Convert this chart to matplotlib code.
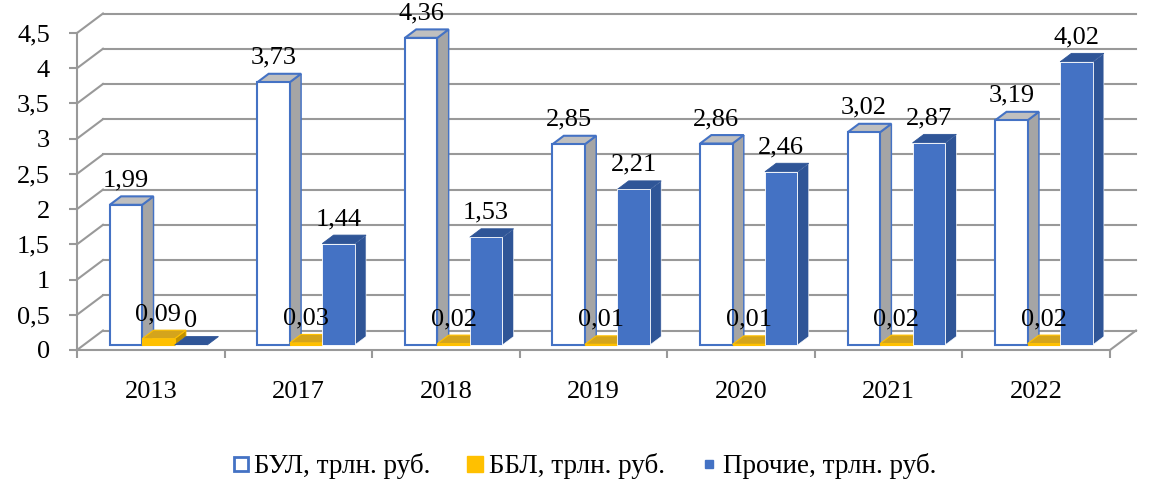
import matplotlib
matplotlib.use("Agg")
import matplotlib.pyplot as plt
from matplotlib.patches import Polygon
from matplotlib.lines import Line2D

# ---- data ----
categories = ["2013", "2017", "2018", "2019", "2020", "2021", "2022"]
bul = [1.99, 3.73, 4.36, 2.85, 2.86, 3.02, 3.19]
bbl = [0.09, 0.03, 0.02, 0.01, 0.01, 0.02, 0.02]
other = [0.0, 1.44, 1.53, 2.21, 2.46, 2.87, 4.02]
series_names = ["БУЛ, трлн. руб.", "ББЛ, трлн. руб.", "Прочие, трлн. руб."]
yticks = [0, 0.5, 1, 1.5, 2, 2.5, 3, 3.5, 4, 4.5]
ytick_labels = ["0", "0,5", "1", "1,5", "2", "2,5", "3", "3,5", "4", "4,5"]

plt.rcParams['font.family'] = ['Liberation Serif', 'DejaVu Serif']
FS = 19
LFS = 19.5
GRID = '#999999'

fig = plt.figure(figsize=(11.53, 4.80), dpi=100)
ax = fig.add_axes([77/1153, (480-350)/480, 1033/1153, 317/480])
n = len(categories)
ax.set_xlim(0, n)
ax.set_ylim(0, 4.5)

# wall depth in data units
px_x = 1033 / n
px_y = 317 / 4.5
dxw = 26 / px_x
dyw = 19.5 / px_y

# walls / gridlines
for y in yticks:
    ax.plot([0, dxw], [y, y + dyw], color=GRID, lw=1.5, zorder=1, clip_on=False)
    ax.plot([dxw, n + dxw], [y + dyw, y + dyw], color=GRID, lw=1.5, zorder=1, clip_on=False)
ax.plot([n, n + dxw], [0, dyw], color=GRID, lw=1.5, zorder=1, clip_on=False)

# spines / ticks
for s in ['top', 'right']:
    ax.spines[s].set_visible(False)
for s in ['left', 'bottom']:
    ax.spines[s].set_color(GRID)
    ax.spines[s].set_linewidth(1.5)
    ax.spines[s].set_zorder(1)
ax.set_yticks(yticks)
ax.set_yticklabels(ytick_labels, fontsize=FS)
ax.tick_params(axis='y', length=6, width=1.5, color=GRID, pad=13.5)
ax.set_xticks(range(n + 1))
ax.set_xticklabels([])
ax.tick_params(axis='x', which='major', length=6, width=1.5, color=GRID, direction='out')
ax.set_xticks([i + 0.5 for i in range(n)], minor=True)
ax.set_xticklabels(categories, minor=True, fontsize=FS)
ax.tick_params(axis='x', which='minor', length=0, pad=22)
ax.set_facecolor('none')

# bar styling
front_cols = ['white', '#FFC000', '#4472C4']
side_cols = ['#A5A5A5', '#BF9000', '#2F5597']
top_cols = ['#BFBFBF', '#D4A41C', '#2F5597']
edge_cols = ['#4472C4', '#FFC000', '#FFFFFF']
edge_w = [1.5, 0.8, 0.6]

bw = 0.22
off = 0.177
f0, f1 = 0.256, 0.69
fx, fy = f0 * dxw, f0 * dyw
ddx, ddy = (f1 - f0) * dxw, (f1 - f0) * dyw

def fmt(v):
    return "0" if v == 0 else f"{v:.2f}".replace('.', ',')

data = [bul, bbl, other]
z = 2.0
for c in range(n):
    for s in range(3):
        v = data[s][c]
        x0 = c + off + s * bw + fx
        x1 = x0 + bw
        y0 = fy
        y1 = fy + v
        front = Polygon([(x0, y0), (x1, y0), (x1, y1), (x0, y1)], closed=True,
                        facecolor=front_cols[s], edgecolor=edge_cols[s], lw=edge_w[s],
                        zorder=z, clip_on=False)
        side = Polygon([(x1, y0), (x1 + ddx, y0 + ddy), (x1 + ddx, y1 + ddy), (x1, y1)], closed=True,
                       facecolor=side_cols[s], edgecolor=edge_cols[s], lw=edge_w[s] * 0.7,
                       zorder=z, clip_on=False)
        top = Polygon([(x0, y1), (x1, y1), (x1 + ddx, y1 + ddy), (x0 + ddx, y1 + ddy)], closed=True,
                      facecolor=top_cols[s], edgecolor=edge_cols[s] if s != 2 else '#2F5597',
                      lw=edge_w[s], zorder=z, clip_on=False)
        ax.add_patch(side)
        ax.add_patch(top)
        ax.add_patch(front)
        z += 0.01
        ax.annotate(fmt(v), xy=((x0 + x1) / 2, y1), xytext=(0, 13.3),
                    textcoords='offset points', ha='center', va='baseline',
                    fontsize=FS, zorder=20, annotation_clip=False)

# legend
handles = [
    Line2D([], [], marker='s', linestyle='none', markersize=10,
           markerfacecolor='white', markeredgecolor='#4472C4', markeredgewidth=2),
    Line2D([], [], marker='s', linestyle='none', markersize=11.5,
           markerfacecolor='#FFC000', markeredgecolor='#FFC000'),
    Line2D([], [], marker='s', linestyle='none', markersize=6,
           markerfacecolor='#4472C4', markeredgecolor='#4472C4'),
]
fig.legend(handles, series_names, loc='center', bbox_to_anchor=(583/1153, (480-466)/480),
           ncol=3, frameon=False, fontsize=LFS, handlelength=0.8, handletextpad=0.1,
           columnspacing=1.25, borderpad=0, borderaxespad=0)

fig.savefig('out.png', dpi=100)
